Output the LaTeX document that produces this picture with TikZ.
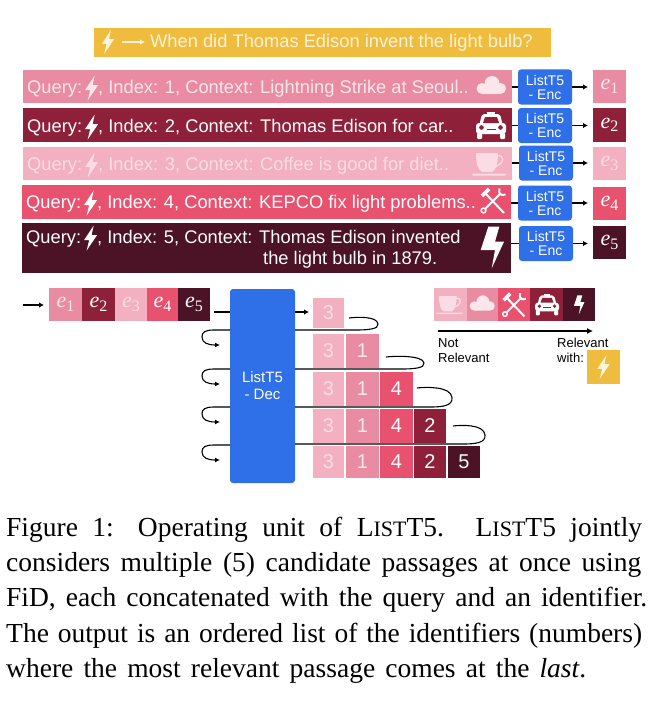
\documentclass[tikz,border=0pt]{standalone}
\usepackage{fontspec}
\setmainfont{Liberation Serif}
\setsansfont{Liberation Sans}
\usetikzlibrary{arrows.meta,calc}
\definecolor{cone}{HTML}{E98CA2}
\definecolor{ctwo}{HTML}{8E2039}
\definecolor{cthree}{HTML}{F2B0C0}
\definecolor{cfour}{HTML}{E9526F}
\definecolor{cfive}{HTML}{4C1225}
\definecolor{cgold}{HTML}{F0BC3E}
\definecolor{cblue}{HTML}{2F6FE8}
\definecolor{fgone}{HTML}{FBE6EB}
\definecolor{fgthree}{HTML}{FADDE4}
\definecolor{fggold}{HTML}{FDF3D8}
\newcommand{\fsz}[1]{\fontsize{#1}{#1}\selectfont}
\newcommand{\qbolt}[1]{\tikz[baseline={(0,-18.25pt)},x=1pt,y=-1pt]{\fill[#1] (9.5,0)--(0,14.5)--(5,14.5)--(2.5,25)--(13,9.5)--(7.5,9.5)--cycle;}}
\newcommand{\ee}[1]{{\fsz{22}\rmfamily\itshape e}\raisebox{-3.5pt}{\fsz{16}\rmfamily #1}}
\newcommand{\bx}[7]{\node[boxstyle,fill=#6,minimum width={(#4-#2)*1pt},minimum height={(#5-#3)*1pt}] (#1) at ({(#2+#4)/2},{(#3+#5)/2}) {#7};}
\newcommand{\loopleft}[1]{\draw[wire,-{Latex[length=5pt,width=5pt]}] (dec.west |- 0,#1) -- (214,#1) .. controls (205,#1) and (202,{#1+2}) .. (202,{#1+7}) .. controls (202,{#1+13}) and (208,{#1+15}) .. (220,{#1+15});}
\newcommand{\loopright}[5]{\coordinate (#1) at (#2,#3); \draw[wire] (#1) .. controls ({#2+8},{#3-1}) and ({#4-1},{#3-2}) .. (#4,{(#3+#5)/2}) .. controls ({#4+1},{#5-1}) and ({#4-10},#5) .. ({#4-22},#5) -- (dec.east |- 0,#5);}
\tikzset{
 boxstyle/.style={inner sep=0pt,outer sep=0pt,text=white,font=\sffamily\fsz{20}},
 rowtext/.style={anchor=west,inner sep=0pt,font=\sffamily\fsz{18.3},text=white},
 encstyle/.style={fill=cblue,rounded corners=3pt,inner sep=0pt,outer sep=0pt,text=white,align=center,font=\sffamily\fsz{14},minimum width=54pt,minimum height=35pt},
 wire/.style={draw=black,line width=1.1pt},
 arr/.style={wire,-{Latex[length=5pt,width=5.5pt]}},
 smalltext/.style={anchor=north west,inner sep=0pt,align=left,font=\sffamily\fsz{13}\linespread{1}\selectfont,text=black},
 captext/.style={anchor=base west,inner sep=0pt,font=\rmfamily\fsz{27.5},text=black},
 pics/iconbolt/.style={code={\fill[#1] (-3.7,-21.3)--(7.3,-21.3)--(3,-6.3)--(12,-6.3)--(-.3,20.3)--(3,2)--(-11.3,2)--cycle;}},
 pics/iconsleek/.style={code={\fill[#1] (3,-12.5)--(-6.5,2)--(-1.5,2)--(-4,12.5)--(6.5,-3)--(1,-3)--cycle;}},
 pics/iconcloud/.style={code={\fill[#1] (-9,3.5) circle (5.5) (1,-1.5) circle (7.5) (9.5,3.5) circle (5.5); \fill[#1,rounded corners=2pt] (-10,2) rectangle (10,9);}},
 pics/iconcar/.style 2 args={code={
   \fill[#1,rounded corners=3pt] (-15,-3) rectangle (15,8);
   \fill[#1,rounded corners=2pt] (-12,0)--(-9,-12)--(9,-12)--(12,0)--cycle;
   \fill[#1] (-4,-14) rectangle (4,-11);
   \fill[#2] (-8,-3)--(-6,-9)--(6,-9)--(8,-3)--cycle;
   \fill[#2] (-9.5,1.5) circle (2.3) (9.5,1.5) circle (2.3);
   \fill[#2] (-4.5,3) rectangle (4.5,4.2);
   \fill[#1,rounded corners=1pt] (-14,7) rectangle (-9,13) (9,7) rectangle (14,13);}},
 pics/iconcup/.style={code={
   \fill[#1] (-15,-11)--(7,-11) .. controls (7,0) and (5,6) .. (1,8)--(-9,8) .. controls (-13,6) and (-15,0) .. (-15,-11)--cycle;
   \draw[#1,line width=1.2pt] (6,-8) .. controls (14,-10) and (14,0) .. (3,3);
   \fill[#1,rounded corners=1pt] (-19,9.5) rectangle (15,11.5);}},
 pics/icontools/.style={code={
   \draw[#1,line width=2pt] (-7,-7)--(11,12);
   \draw[#1,line width=3.6pt] (-11,-5)--(-4,-12);
   \draw[#1,line width=2pt] (7,-7)--(-8,8);
   \draw[#1,line width=1.5pt] (-9.5,9.5) circle (2.4);
   \draw[#1,line width=2pt] (6.5,-12.5) .. controls (5,-7) and (8,-5) .. (12.5,-6.5);}},
}
\begin{document}
\begin{tikzpicture}[x=1pt,y=-1pt]
\useasboundingbox (0,0) rectangle (654,701);
% Query banner
\bx{banner}{94}{28}{551}{57}{cgold}{}
\pic[scale=.95] at (108,42) {iconsleek=fggold};
\coordinate (qs) at (122,42); \coordinate (qe) at (145,42);
\draw[draw=fggold,line width=1.2pt,-{Latex[length=5pt,width=5.5pt]}] (qs) -- (qe);
\node[rowtext,text=fggold] (qtext) at (150,43) {When did Thomas Edison invent the light bulb?};
% Rows
\bx{row1}{23}{70}{512}{103}{cone}{}
\bx{row2}{23}{108}{512}{142}{ctwo}{}
\bx{row3}{23}{147}{512}{180}{cthree}{}
\bx{row4}{22}{185}{511}{219}{cfour}{}
\bx{row5}{22}{223}{511}{273}{cfive}{}
\node[rowtext,text=fgone] (t1) at (27,88) {Query:\,\qbolt{fgone}, Index: 1, Context: Lightning Strike at Seoul..};
\node[rowtext] (t2) at (27,127) {Query:\,\qbolt{white}, Index: 2, Context: Thomas Edison for car..};
\node[rowtext,text=fgthree] (t3) at (27,165) {Query:\,\qbolt{fgthree}, Index: 3, Context: Coffee is good for diet..};
\node[rowtext] (t4) at (26,203) {Query:\,\qbolt{white}, Index: 4, Context: KEPCO fix light problems..};
\node[rowtext] (t5) at (26,238) {Query:\,\qbolt{white}, Index: 5, Context: Thomas Edison invented};
\node[rowtext] (t5b) at (263,260) {the light bulb in 1879.};
\pic at (491,85) {iconcloud=fgone};
\pic at (491,126) {iconcar={white}{ctwo}};
\pic at (491,164) {iconcup=fgthree};
\pic at (493,201) {icontools=white};
\pic at (492,248) {iconbolt=white};
% Encoders
\node[encstyle] (enc1) at (545,87) {ListT5\\- Enc};
\node[encstyle] (enc2) at (545,125.5) {ListT5\\- Enc};
\node[encstyle] (enc3) at (546,163) {ListT5\\- Enc};
\node[encstyle] (enc4) at (545,203) {ListT5\\- Enc};
\node[encstyle] (enc5) at (546,243.5) {ListT5\\- Enc};
\bx{e1}{593}{70}{626}{103}{cone}{\color{fgone}\ee{1}}
\bx{e2}{593}{108}{626}{142}{ctwo}{\ee{2}}
\bx{e3}{593}{147}{626}{180}{cthree}{\color{fgthree}\ee{3}}
\bx{e4}{593}{187}{626}{220}{cfour}{\ee{4}}
\bx{e5}{593}{226}{626}{259}{cfive}{\ee{5}}
\foreach \i in {1,...,5}{
  \draw[wire] (row\i.east |- enc\i.west) -- (enc\i.west);
  \draw[arr,shorten >=5pt] (enc\i.east) -- (enc\i.east -| e\i.west);
}
% Embedding strip
\coordinate (instart) at (23,305);
\bx{s1}{49}{288}{82}{321}{cone}{\color{fgone}\ee{1}}
\bx{s2}{82}{288}{115}{321}{ctwo}{\ee{2}}
\bx{s3}{115}{288}{147}{321}{cthree}{\color{fgthree}\ee{3}}
\bx{s4}{147}{288}{178}{321}{cfour}{\ee{4}}
\bx{s5}{178}{288}{210}{321}{cfive}{\ee{5}}
\draw[arr,shorten >=5pt] (instart) -- (instart -| s1.west);
% Decoder
\node[fill=cblue,rounded corners=3pt,inner sep=0pt,outer sep=0pt,minimum width=65pt,minimum height=194pt,text=white,align=center,font=\sffamily\fsz{15}] (dec) at (262.5,386) {ListT5\\[2pt]- Dec};
% Output stacks
\bx{a1}{313}{298}{344}{328}{cthree}{\color{fgthree}3}
\bx{b1}{313}{334}{344}{368}{cthree}{\color{fgthree}3}
\bx{b2}{346}{334}{379}{368}{cone}{\color{fgone}1}
\bx{c1}{313}{372}{344}{406}{cthree}{\color{fgthree}3}
\bx{c2}{346}{372}{379}{406}{cone}{\color{fgone}1}
\bx{c3}{380}{372}{413}{406}{cfour}{4}
\bx{d1}{313}{409}{344}{443}{cthree}{\color{fgthree}3}
\bx{d2}{346}{409}{379}{443}{cone}{\color{fgone}1}
\bx{d3}{380}{409}{413}{443}{cfour}{4}
\bx{d4}{414}{409}{446}{443}{ctwo}{2}
\bx{f1}{313}{446}{344}{478}{cthree}{\color{fgthree}3}
\bx{f2}{346}{446}{379}{478}{cone}{\color{fgone}1}
\bx{f3}{380}{446}{413}{478}{cfour}{4}
\bx{f4}{414}{446}{446}{478}{ctwo}{2}
\bx{f5}{448}{446}{480}{478}{cfive}{5}
% Wires around the decoder
\coordinate (sin) at (214,312);
\draw[wire] (sin) -- (dec.west |- sin);
\draw[arr,shorten >=4pt] (dec.east |- sin) -- (a1.west |- sin);
\loopright{la}{349}{318}{378}{330}
\loopright{lb}{386}{357}{424}{369}
\loopright{lc}{417}{388}{452}{407}
\loopright{ld}{453}{426}{485}{444}
\loopleft{330}
\loopleft{369}
\loopleft{407}
\loopleft{445}
% Ranking strip
\bx{r1}{434}{288}{467}{321}{cthree}{}
\bx{r2}{467}{288}{498}{321}{cone}{}
\bx{r3}{498}{288}{530}{321}{cfour}{}
\bx{r4}{530}{288}{563}{321}{ctwo}{}
\bx{r5}{563}{288}{595}{321}{cfive}{}
\pic[scale=.8] at (451,305) {iconcup=fgthree};
\pic[scale=.85] at (482,303) {iconcloud=fgone};
\pic[scale=.95] at (514,305) {icontools=white};
\pic[scale=.8] at (547,305) {iconcar={white}{ctwo}};
\pic[scale=.45] at (579,305) {iconbolt=white};
\coordinate (ra) at (438,331); \coordinate (rb) at (593,331);
\draw[wire,-{Latex[length=6pt,width=6pt]}] (ra) -- (rb);
\node[smalltext] (nr) at (438,338) {Not\\[2pt]Relevant};
\node[smalltext] (rw) at (557,338) {Relevant\\[2pt]with:};
\bx{yel}{587}{350}{620}{384}{cgold}{}
\pic[scale=.95] at (603.5,367) {iconsleek=fggold};
% Caption
\node[captext] (c1) at (6,536) {\makebox[636pt][s]{Figure 1: Operating unit of L{\fsz{22}IST}T5. L{\fsz{22}IST}T5 jointly}};
\node[captext] (c2) at (6,571) {\makebox[635pt][s]{considers multiple (5) candidate passages at once using}};
\node[captext] (c3) at (6,606) {\makebox[641pt][s]{FiD, each concatenated with the query and an identifier.}};
\node[captext] (c4) at (6,642) {\makebox[636pt][s]{The output is an ordered list of the identifiers (numbers)}};
\node[captext] (c5) at (6,677) {\makebox[580pt][s]{where the most relevant passage comes at the \textit{last}.}};
\end{tikzpicture}
\end{document}
